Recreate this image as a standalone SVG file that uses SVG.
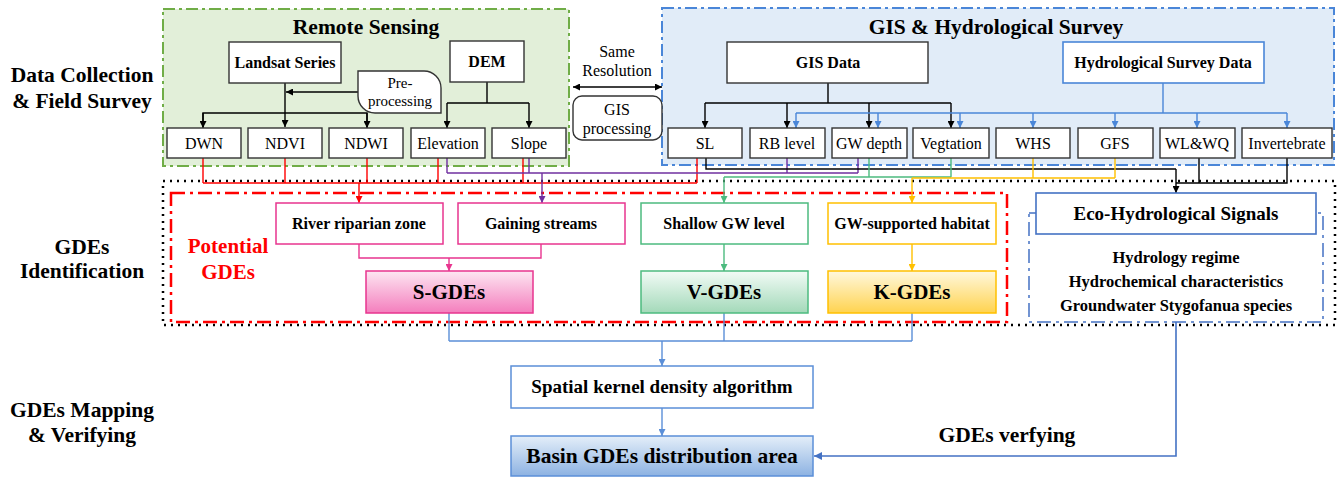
<svg xmlns="http://www.w3.org/2000/svg" width="1340" height="477" viewBox="0 0 1340 477">
<defs>
<style>
text{font-family:"Liberation Serif","Times New Roman",serif;text-anchor:middle;fill:#000}
.b{font-weight:bold}
.lbl{font-size:21.5px;font-weight:bold}
.ttl{font-size:21.5px;font-weight:bold}
.t16{font-size:16px}
.box{fill:#fff;stroke:#333;stroke-width:1.4}
.ln{fill:none;stroke-width:1.4}
.k{stroke:#000}.bl{stroke:#4a86d8}.r{stroke:#ff0000}.p{stroke:#7030a0}.g{stroke:#4cbb7f}.y{stroke:#ffc000}.pk{stroke:#e8358f}.bb{stroke:#5b8fd8}.bd{stroke:#4472c4}
</style>
<marker id="ak" viewBox="0 0 10 10" refX="10" refY="5" markerWidth="7" markerHeight="7" markerUnits="userSpaceOnUse" orient="auto-start-reverse"><path d="M0,0L10,5L0,10z" fill="#000"/></marker>
<marker id="abl" viewBox="0 0 10 10" refX="10" refY="5" markerWidth="7" markerHeight="7" markerUnits="userSpaceOnUse" orient="auto"><path d="M0,0L10,5L0,10z" fill="#4a86d8"/></marker>
<marker id="ar" viewBox="0 0 10 10" refX="10" refY="5" markerWidth="7" markerHeight="7" markerUnits="userSpaceOnUse" orient="auto"><path d="M0,0L10,5L0,10z" fill="#ff0000"/></marker>
<marker id="ap" viewBox="0 0 10 10" refX="10" refY="5" markerWidth="7" markerHeight="7" markerUnits="userSpaceOnUse" orient="auto"><path d="M0,0L10,5L0,10z" fill="#7030a0"/></marker>
<marker id="ag" viewBox="0 0 10 10" refX="10" refY="5" markerWidth="7" markerHeight="7" markerUnits="userSpaceOnUse" orient="auto"><path d="M0,0L10,5L0,10z" fill="#4cbb7f"/></marker>
<marker id="ay" viewBox="0 0 10 10" refX="10" refY="5" markerWidth="7" markerHeight="7" markerUnits="userSpaceOnUse" orient="auto"><path d="M0,0L10,5L0,10z" fill="#ffc000"/></marker>
<marker id="apk" viewBox="0 0 10 10" refX="10" refY="5" markerWidth="7" markerHeight="7" markerUnits="userSpaceOnUse" orient="auto"><path d="M0,0L10,5L0,10z" fill="#e8358f"/></marker>
<marker id="abb" viewBox="0 0 10 10" refX="10" refY="5" markerWidth="7" markerHeight="7" markerUnits="userSpaceOnUse" orient="auto"><path d="M0,0L10,5L0,10z" fill="#5b8fd8"/></marker>
<marker id="abd" viewBox="0 0 10 10" refX="10" refY="5" markerWidth="8" markerHeight="8" markerUnits="userSpaceOnUse" orient="auto"><path d="M0,0L10,5L0,10z" fill="#4472c4"/></marker>
<linearGradient id="gS" x1="0" y1="0" x2="0" y2="1"><stop offset="0" stop-color="#fde6f2"/><stop offset="1" stop-color="#f47ebd"/></linearGradient>
<linearGradient id="gV" x1="0" y1="0" x2="0" y2="1"><stop offset="0" stop-color="#f2fbf6"/><stop offset="1" stop-color="#a3d9b9"/></linearGradient>
<linearGradient id="gK" x1="0" y1="0" x2="0" y2="1"><stop offset="0" stop-color="#fff8de"/><stop offset="1" stop-color="#ffd34f"/></linearGradient>
<linearGradient id="gB" x1="0" y1="0" x2="0" y2="1"><stop offset="0" stop-color="#e4eef9"/><stop offset="1" stop-color="#8db2e2"/></linearGradient>
</defs>
<rect width="1340" height="477" fill="#fff"/>

<g id="stage-labels">
<text class="lbl" x="82" y="82">Data Collection</text>
<text class="lbl" x="82" y="108">&amp; Field Survey</text>
<text class="lbl" x="82" y="254">GDEs</text>
<text class="lbl" x="82" y="278">Identification</text>
<text class="lbl" x="82" y="417">GDEs Mapping</text>
<text class="lbl" x="82" y="442">&amp; Verifying</text>
</g>

<g id="remote-sensing">
<rect x="163" y="9" width="406" height="157" fill="#e2efd9" stroke="#70ad47" stroke-width="2" stroke-dasharray="12 4 3 4"/>
<text class="ttl" x="366" y="34">Remote Sensing</text>
</g>
<g id="gis-hydro">
<rect x="662" y="8" width="672" height="157" fill="#e1ecf8" stroke="#4a86d8" stroke-width="2" stroke-dasharray="12 4 3 4"/>
<text class="ttl" x="996" y="34">GIS &amp; Hydrological Survey</text>
</g>

<g id="gdes-identification">
<rect x="163" y="181" width="1172" height="144" fill="none" stroke="#000" stroke-width="2.5" stroke-dasharray="2 5"/>
</g>
<g id="potential-gdes">
<rect x="171" y="193" width="836" height="129" fill="none" stroke="#ff0000" stroke-width="2.5" stroke-dasharray="14 5 3 5"/>
<text x="228" y="253" style="font-size:21px;font-weight:bold;fill:#ff0000">Potential</text>
<text x="228" y="279" style="font-size:21px;font-weight:bold;fill:#ff0000">GDEs</text>
</g>
<g id="eco-signals-group">
<rect x="1029" y="213" width="294" height="109" fill="none" stroke="#4472c4" stroke-width="1.5" stroke-dasharray="14 5 3 5"/>
<text class="b" x="1176" y="263" style="font-size:16.5px">Hydrology regime</text>
<text class="b" x="1176" y="287" style="font-size:16.5px">Hydrochemical characteristics</text>
<text class="b" x="1176" y="311" style="font-size:16.5px">Groundwater Stygofanua species</text>
</g>

<g id="connectors">
<path class="ln k" d="M285,83V127" marker-end="url(#ak)"/>
<path class="ln k" d="M203,127V113H367V127" />
<path class="ln k" d="M203,113V128" marker-end="url(#ak)"/>
<path class="ln k" d="M367,113V128" marker-end="url(#ak)"/>
<path class="ln k" d="M358,92H286" marker-end="url(#ak)"/>
<path class="ln k" d="M487,82V103M447,103H529"/>
<path class="ln k" d="M447,103V128" marker-end="url(#ak)"/>
<path class="ln k" d="M529,103V128" marker-end="url(#ak)"/>
<path class="ln k" d="M573,87H662" marker-start="url(#ak)" marker-end="url(#ak)"/>
<path class="ln k" d="M828,83V103M705,103H951"/>
<path class="ln k" d="M705,103V128" marker-end="url(#ak)"/>
<path class="ln k" d="M787,103V128" marker-end="url(#ak)"/>
<path class="ln k" d="M869,103V128" marker-end="url(#ak)"/>
<path class="ln k" d="M951,103V128" marker-end="url(#ak)"/>
<path class="ln bl" d="M1163,83V113M796,113H1287"/>
<path class="ln bl" d="M796,113V128" marker-end="url(#abl)"/>
<path class="ln bl" d="M878,113V128" marker-end="url(#abl)"/>
<path class="ln bl" d="M960,113V128" marker-end="url(#abl)"/>
<path class="ln bl" d="M1033,113V128" marker-end="url(#abl)"/>
<path class="ln bl" d="M1115,113V128" marker-end="url(#abl)"/>
<path class="ln bl" d="M1197,113V128" marker-end="url(#abl)"/>
<path class="ln bl" d="M1287,113V128" marker-end="url(#abl)"/>
<path class="ln r" d="M203,158V183M285,158V183M367,158V183M438,158V183M523,158V183M697,158V183M203,183H697"/>
<path class="ln r" d="M359,183V203" marker-end="url(#ar)"/>
<path class="ln p" d="M447,158V173M529,158V173M787,158V173M858,158V173M447,173H858"/>
<path class="ln p" d="M542,173V203" marker-end="url(#ap)"/>
<path class="ln k" d="M706,158V169H1176"/>
<path class="ln k" d="M1199,158V183M1287,158V183H1176"/>
<path class="ln k" d="M1176,169V193" marker-end="url(#ak)"/>
<path class="ln g" d="M869,158V177M951,158V177M724,177H951"/>
<path class="ln g" d="M724,177V203" marker-end="url(#ag)"/>
<path class="ln y" d="M1033,158V178M1115,158V178M912,178H1115"/>
<path class="ln y" d="M912,178V203" marker-end="url(#ay)"/>
<path class="ln pk" d="M359,244V258H541V244"/>
<path class="ln pk" d="M449,258V271" marker-end="url(#apk)"/>
<path class="ln g" d="M724,244V271" marker-end="url(#ag)"/>
<path class="ln y" d="M912,244V271" marker-end="url(#ay)"/>
<path class="ln bb" d="M449,313V341M724,313V341M912,313V341M449,341H912"/>
<path class="ln bb" d="M662,341V366" marker-end="url(#abb)"/>
<path class="ln bb" d="M662,408V436" marker-end="url(#abb)"/>
<path class="ln bd" d="M1176,322V456H814" style="stroke-width:1.6" marker-end="url(#abd)"/>
</g>

<g id="landsat"><rect class="box" x="229" y="42" width="112" height="41"/><text class="b t16" x="285" y="68">Landsat Series</text></g>
<g id="dem"><rect class="box" x="450" y="41" width="74" height="41"/><text class="b t16" x="487" y="67">DEM</text></g>
<g id="preprocessing"><path d="M358,71H424A17,17 0 0 1 441,88V113H375A17,17 0 0 1 358,96Z" fill="#fff" stroke="#333" stroke-width="1.4"/><text class="t16" x="400" y="88" style="font-size:15px">Pre-</text><text class="t16" x="400" y="106" style="font-size:15px">processing</text></g>
<g id="same-resolution"><text class="t16" x="617" y="57">Same</text><text class="t16" x="617" y="76">Resolution</text></g>
<g id="gis-processing"><rect x="573" y="96" width="89" height="44" rx="9" fill="#fff" stroke="#333" stroke-width="1.4"/><text class="t16" x="617" y="115">GIS</text><text class="t16" x="617" y="134">processing</text></g>
<g id="gis-data"><rect class="box" x="727" y="42" width="201" height="41"/><text class="b t16" x="828" y="68">GIS Data</text></g>
<g id="hydro-survey-data"><rect x="1063" y="42" width="201" height="41" fill="#fff" stroke="#4a86d8" stroke-width="1.6"/><text class="b t16" x="1163" y="68">Hydrological Survey Data</text></g>

<g id="dwn"><rect class="box" x="167" y="128" width="74" height="30"/><text class="t16" x="204" y="149">DWN</text></g>
<g id="ndvi"><rect class="box" x="248" y="128" width="74" height="30"/><text class="t16" x="285" y="149">NDVI</text></g>
<g id="ndwi"><rect class="box" x="329" y="128" width="74" height="30"/><text class="t16" x="366" y="149">NDWI</text></g>
<g id="elevation"><rect class="box" x="411" y="128" width="74" height="30"/><text class="t16" x="448" y="149">Elevation</text></g>
<g id="slope"><rect class="box" x="492" y="128" width="74" height="30"/><text class="t16" x="529" y="149">Slope</text></g>
<g id="sl"><rect class="box" x="668" y="128" width="74" height="30"/><text class="t16" x="705" y="149">SL</text></g>
<g id="rb-level"><rect class="box" x="750" y="128" width="75" height="30"/><text class="t16" x="787" y="149">RB level</text></g>
<g id="gw-depth"><rect class="box" x="832" y="128" width="75" height="30"/><text class="t16" x="869" y="149">GW depth</text></g>
<g id="vegtation"><rect class="box" x="913" y="128" width="76" height="30"/><text class="t16" x="951" y="149">Vegtation</text></g>
<g id="whs"><rect class="box" x="996" y="128" width="74" height="30"/><text class="t16" x="1033" y="149">WHS</text></g>
<g id="gfs"><rect class="box" x="1078" y="128" width="75" height="30"/><text class="t16" x="1115" y="149">GFS</text></g>
<g id="wlwq"><rect class="box" x="1160" y="128" width="75" height="30"/><text class="t16" x="1197" y="149">WL&amp;WQ</text></g>
<g id="invertebrate"><rect class="box" x="1242" y="128" width="90" height="30"/><text class="t16" x="1287" y="149">Invertebrate</text></g>

<g id="river-riparian"><rect x="276" y="203" width="167" height="41" fill="#fff" stroke="#e8358f" stroke-width="1.5"/><text class="b t16" x="359" y="229">River riparian zone</text></g>
<g id="gaining-streams"><rect x="458" y="203" width="167" height="41" fill="#fff" stroke="#e8358f" stroke-width="1.5"/><text class="b t16" x="541" y="229">Gaining streams</text></g>
<g id="shallow-gw"><rect x="641" y="203" width="167" height="41" fill="#fff" stroke="#4cbb7f" stroke-width="1.5"/><text class="b t16" x="724" y="229">Shallow GW level</text></g>
<g id="gw-habitat"><rect x="828" y="203" width="168" height="41" fill="#fff" stroke="#ffc000" stroke-width="1.5"/><text class="b t16" x="912" y="229">GW-supported habitat</text></g>

<g id="s-gdes"><rect x="366" y="271" width="167" height="42" fill="url(#gS)" stroke="#e8358f" stroke-width="1.5"/><text class="b" x="449" y="299" style="font-size:21px">S-GDEs</text></g>
<g id="v-gdes"><rect x="641" y="271" width="167" height="42" fill="url(#gV)" stroke="#4cbb7f" stroke-width="1.5"/><text class="b" x="724" y="299" style="font-size:21px">V-GDEs</text></g>
<g id="k-gdes"><rect x="828" y="271" width="168" height="42" fill="url(#gK)" stroke="#ffc000" stroke-width="1.5"/><text class="b" x="912" y="299" style="font-size:21px">K-GDEs</text></g>

<g id="eco-signals"><rect x="1036" y="193" width="280" height="41" fill="#fff" stroke="#4472c4" stroke-width="1.6"/><text class="b" x="1176" y="220" style="font-size:19px">Eco-Hydrological Signals</text></g>

<g id="kernel-density"><rect x="511" y="366" width="302" height="42" fill="#fff" stroke="#5b8fd8" stroke-width="1.5"/><text class="b" x="662" y="393" style="font-size:19px">Spatial kernel density algorithm</text></g>
<g id="basin-area"><rect x="511" y="436" width="302" height="40" fill="url(#gB)" stroke="#5b8fd8" stroke-width="1.5"/><text class="b" x="662" y="463" style="font-size:21.5px">Basin GDEs distribution area</text></g>
<g id="verify-label"><text class="b" x="1007" y="442" style="font-size:21.5px">GDEs verfying</text></g>
</svg>
